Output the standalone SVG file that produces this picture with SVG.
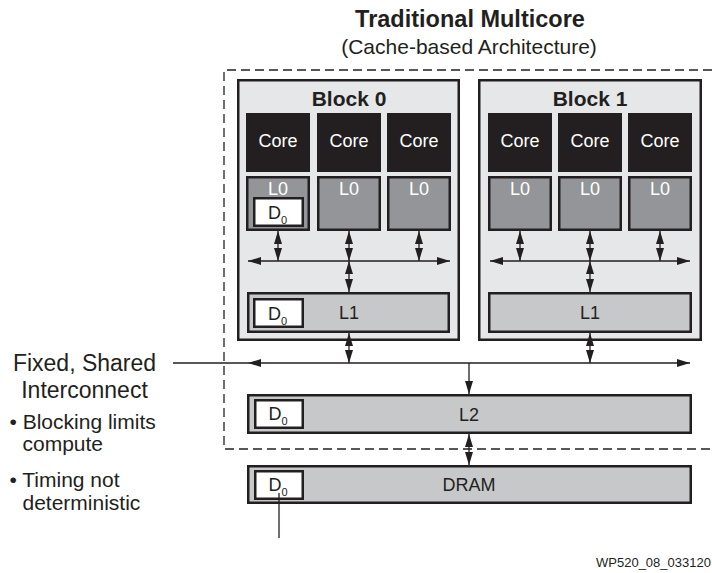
<svg xmlns="http://www.w3.org/2000/svg" width="712" height="573" viewBox="0 0 712 573">
<style>
text{font-family:"Liberation Sans",Arial,sans-serif;fill:#231f20}
.title{font-size:23.5px;font-weight:bold;text-anchor:middle}
.sub{font-size:21px;text-anchor:middle}
.blk{font-size:21px;font-weight:bold;text-anchor:middle}
.lbl{font-size:18px;text-anchor:middle}
.wl{font-size:18px;text-anchor:middle;fill:#fff}
.side{font-size:23px;text-anchor:middle}
.bul{font-size:21px}
.d{font-size:18px}
.d tspan{font-size:11px}
.block{fill:#e6e7e8;stroke:#231f20;stroke-width:2.5}
.core{fill:#231f20}
.l0{fill:#939598;stroke:#231f20;stroke-width:2.5}
.mem{fill:#c7c8ca;stroke:#231f20;stroke-width:2.5}
.dbox{fill:#fff;stroke:#231f20;stroke-width:2.5}
.ln{stroke:#231f20;stroke-width:1.3;fill:none}
.dd{marker-start:url(#ah);marker-end:url(#ah)}
.de{marker-end:url(#ah)}
.dash{fill:none;stroke:#231f20;stroke-width:1.3;stroke-dasharray:9 5}
</style>
<defs>
<marker id="ah" markerUnits="userSpaceOnUse" markerWidth="13" markerHeight="8" refX="13" refY="4" orient="auto-start-reverse">
<path d="M0,0 L13,4 L0,8 z" fill="#231f20"/>
</marker>
</defs>
<rect width="712" height="573" fill="#fff"/>

<g id="title">
<text class="title" x="470" y="27">Traditional Multicore</text>
<text class="sub" x="469" y="54">(Cache-based Architecture)</text>
</g>

<path id="boundary" class="dash" d="M712,70 H224 V449 H712"/>

<g id="block0">
<rect class="block" x="238.25" y="80.25" width="220.5" height="259.5"/>
<text class="blk" x="349" y="106">Block 0</text>
</g>
<g id="block1">
<rect class="block" x="479.25" y="80.25" width="221.5" height="259.5"/>
<text class="blk" x="590" y="106">Block 1</text>
</g>

<g id="b0-core0"><rect class="core" x="246" y="113" width="64" height="59"/><text class="wl" x="278" y="147">Core</text></g>
<g id="b0-core1"><rect class="core" x="317" y="113" width="64" height="59"/><text class="wl" x="349" y="147">Core</text></g>
<g id="b0-core2"><rect class="core" x="387" y="113" width="64" height="59"/><text class="wl" x="419" y="147">Core</text></g>
<g id="b1-core0"><rect class="core" x="488" y="113" width="64" height="59"/><text class="wl" x="520" y="147">Core</text></g>
<g id="b1-core1"><rect class="core" x="558" y="113" width="64" height="59"/><text class="wl" x="590" y="147">Core</text></g>
<g id="b1-core2"><rect class="core" x="628" y="113" width="64" height="59"/><text class="wl" x="660" y="147">Core</text></g>

<g id="b0-l0-0"><rect class="l0" x="247.25" y="177.25" width="61.5" height="52.5"/><text class="wl" x="278" y="195">L0</text>
<rect class="dbox" x="254.25" y="198.25" width="48.5" height="27.5"/><text class="d" x="268" y="219">D<tspan dy="5">0</tspan></text></g>
<g id="b0-l0-1"><rect class="l0" x="318.25" y="177.25" width="61.5" height="52.5"/><text class="wl" x="349" y="195">L0</text></g>
<g id="b0-l0-2"><rect class="l0" x="388.25" y="177.25" width="61.5" height="52.5"/><text class="wl" x="419" y="195">L0</text></g>
<g id="b1-l0-0"><rect class="l0" x="489.25" y="177.25" width="61.5" height="52.5"/><text class="wl" x="520" y="195">L0</text></g>
<g id="b1-l0-1"><rect class="l0" x="559.25" y="177.25" width="61.5" height="52.5"/><text class="wl" x="590" y="195">L0</text></g>
<g id="b1-l0-2"><rect class="l0" x="629.25" y="177.25" width="61.5" height="52.5"/><text class="wl" x="660" y="195">L0</text></g>

<g id="b0-l1"><rect class="mem" x="248.25" y="293.25" width="200.5" height="38.5"/><text class="lbl" x="349" y="319">L1</text>
<rect class="dbox" x="254.25" y="299.25" width="48.5" height="27.5"/><text class="d" x="268" y="320">D<tspan dy="5">0</tspan></text></g>
<g id="b1-l1"><rect class="mem" x="489.25" y="293.25" width="201.5" height="38.5"/><text class="lbl" x="590" y="319">L1</text></g>

<g id="l2"><rect class="mem" x="248.25" y="395.25" width="442.5" height="37.5"/><text class="lbl" x="469" y="421">L2</text>
<rect class="dbox" x="255.25" y="400.25" width="47.5" height="27.5"/><text class="d" x="268.5" y="420">D<tspan dy="5">0</tspan></text></g>
<g id="dram"><rect class="mem" x="248.25" y="466.25" width="442.5" height="36.5"/><text class="lbl" x="469" y="491">DRAM</text>
<rect class="dbox" x="255.25" y="471.25" width="47.5" height="27.5"/><text class="d" x="268.5" y="491">D<tspan dy="5">0</tspan></text></g>

<g id="connectors">
<line class="ln dd" x1="248" y1="261" x2="450" y2="261"/>
<line class="ln dd" x1="490" y1="261" x2="690" y2="261"/>
<line class="ln dd" x1="278" y1="231" x2="278" y2="261"/>
<line class="ln dd" x1="349" y1="231" x2="349" y2="261"/>
<line class="ln dd" x1="419" y1="231" x2="419" y2="261"/>
<line class="ln dd" x1="520" y1="231" x2="520" y2="261"/>
<line class="ln dd" x1="590" y1="231" x2="590" y2="261"/>
<line class="ln dd" x1="660" y1="231" x2="660" y2="261"/>
<line class="ln dd" x1="349" y1="261" x2="349" y2="292"/>
<line class="ln dd" x1="590" y1="261" x2="590" y2="292"/>
<line class="ln dd" x1="349" y1="333" x2="349" y2="363"/>
<line class="ln dd" x1="590" y1="333" x2="590" y2="363"/>
<line class="ln dd" x1="248" y1="363" x2="690" y2="363"/>
<line class="ln" x1="173" y1="363" x2="248" y2="363"/>
<line class="ln de" x1="469" y1="363" x2="469" y2="394"/>
<line class="ln dd" x1="469" y1="434" x2="469" y2="465"/>
<line class="ln" x1="279" y1="493" x2="279" y2="538"/>
</g>

<g id="side-label">
<text class="side" x="84.5" y="371">Fixed, Shared</text>
<text class="side" x="84.5" y="398">Interconnect</text>
<text class="bul" x="9.5" y="429">• Blocking limits</text>
<text class="bul" x="22.5" y="451">compute</text>
<text class="bul" x="9.5" y="487">• Timing not</text>
<text class="bul" x="22.5" y="510">deterministic</text>
</g>

<text id="figid" x="596" y="567" style="font-size:13px">WP520_08_033120</text>
</svg>
